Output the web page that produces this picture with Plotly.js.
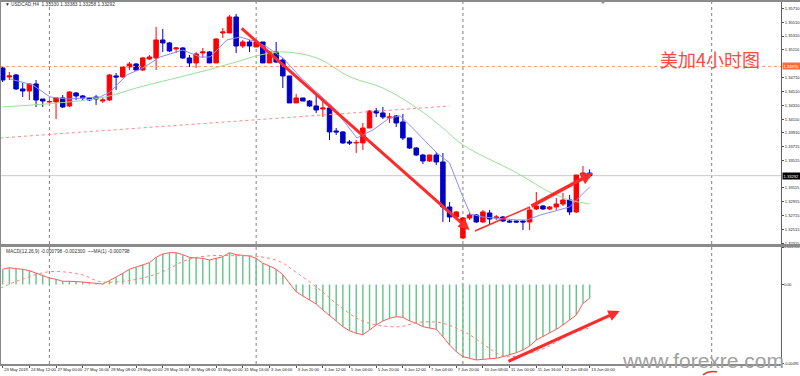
<!DOCTYPE html>
<html><head><meta charset="utf-8">
<script src="https://cdn.plot.ly/plotly-3.0.1.min.js"></script>
<style>html,body{margin:0;padding:0;background:#fff}#chart{width:800px;height:376px}</style>
</head><body><div id="chart"></div>
<script>
// ---- price bars (USDCAD H4) ----
const barOpen = [1.34848,1.34718,1.34747,1.34545,1.34516,1.34617,1.34400,1.34357,1.34357,1.34415,
1.34299,1.34487,1.34444,1.34415,1.34429,1.34371,1.34386,1.34733,1.34718,1.34863,
1.34906,1.34819,1.34978,1.34993,1.35253,1.35210,1.35123,1.35137,1.34993,1.34921,
1.35065,1.35080,1.34921,1.35354,1.35354,1.35585,1.35166,1.35224,1.35152,1.35224,
1.34921,1.35080,1.34964,1.34733,1.34343,1.34415,1.34371,1.34299,1.34256,1.34270,
1.33938,1.33924,1.33779,1.33765,1.33765,1.33981,1.34227,1.34198,1.34126,1.34155,
1.34068,1.33837,1.33692,1.33591,1.33504,1.33591,1.33490,1.32840,1.32695,1.32392,
1.32681,1.32724,1.32623,1.32753,1.32681,1.32695,1.32637,1.32637,1.32637,1.32623,
1.32811,1.32854,1.32811,1.32840,1.32883,1.32941,1.32768,1.33302,1.33330];
const barHigh = [1.34877,1.34791,1.34762,1.34632,1.34632,1.34675,1.34400,1.34386,1.34429,1.34458,
1.34516,1.34501,1.34458,1.34429,1.34458,1.34429,1.34762,1.34776,1.34877,1.34935,
1.34921,1.35007,1.35036,1.35441,1.35412,1.35224,1.35152,1.35152,1.35036,1.35080,
1.35137,1.35094,1.35282,1.35426,1.35614,1.35629,1.35253,1.35253,1.35238,1.35224,
1.35094,1.35224,1.34993,1.34733,1.34473,1.34415,1.34386,1.34458,1.34415,1.34270,
1.33981,1.33938,1.33808,1.33808,1.34054,1.34241,1.34270,1.34285,1.34198,1.34169,
1.34184,1.33837,1.33707,1.33606,1.33591,1.33635,1.33620,1.32912,1.32782,1.32695,
1.32753,1.32739,1.32796,1.32796,1.32724,1.32710,1.32652,1.32652,1.32652,1.32840,
1.33056,1.32869,1.32854,1.32970,1.33042,1.33013,1.33302,1.33432,1.33383];
const barLow = [1.34646,1.34675,1.34530,1.34429,1.34386,1.34285,1.34285,1.34343,1.34111,1.34270,
1.34285,1.34386,1.34386,1.34371,1.34314,1.34343,1.34371,1.34530,1.34704,1.34819,
1.34805,1.34805,1.34964,1.34819,1.35080,1.35080,1.35065,1.34978,1.34863,1.34848,
1.34993,1.34921,1.34921,1.35282,1.35354,1.35065,1.35137,1.35080,1.35152,1.34921,
1.34921,1.34921,1.34559,1.34343,1.34343,1.34371,1.34285,1.34198,1.34140,1.33808,
1.33880,1.33750,1.33736,1.33620,1.33663,1.33981,1.34140,1.34111,1.34054,1.33996,
1.33808,1.33678,1.33577,1.33461,1.33490,1.33447,1.32623,1.32623,1.32681,1.32377,
1.32652,1.32609,1.32609,1.32580,1.32652,1.32623,1.32609,1.32609,1.32507,1.32507,
1.32796,1.32796,1.32796,1.32796,1.32854,1.32724,1.32753,1.33288,1.33258];
const barClose = [1.34675,1.34733,1.34545,1.34516,1.34617,1.34386,1.34371,1.34364,1.34415,1.34285,
1.34501,1.34444,1.34415,1.34386,1.34400,1.34386,1.34747,1.34718,1.34863,1.34906,
1.34819,1.34993,1.35007,1.35253,1.35210,1.35094,1.35137,1.34993,1.34921,1.35051,
1.35080,1.34921,1.35267,1.35368,1.35585,1.35166,1.35224,1.35166,1.35224,1.34921,
1.35080,1.34935,1.34733,1.34343,1.34415,1.34371,1.34299,1.34241,1.34270,1.33924,
1.33924,1.33765,1.33765,1.33772,1.33981,1.34227,1.34198,1.34140,1.34140,1.34054,
1.33837,1.33692,1.33591,1.33504,1.33591,1.33490,1.32840,1.32695,1.32768,1.32681,
1.32724,1.32623,1.32768,1.32666,1.32695,1.32637,1.32623,1.32623,1.32623,1.32796,
1.32854,1.32811,1.32840,1.32883,1.32941,1.32768,1.33302,1.33331,1.33292];

// ---- moving averages (read at bar positions) ----
const fastMaX = [1.1,4.5,7.1,9.6,14.6,16.1,18.6,21,23.6,27,29.6,31.1,33.6,35.6,38.1,39.6,42,44.6,49.5,53.1,55.5,58,59.6,61,65.1,67,69,70.1,72,77.1,78.6,80.6,85,86.1,88];
const fastMaY = [1.34689,1.34603,1.34429,1.34400,1.34429,1.34501,1.34747,1.34848,1.35007,1.35108,1.35007,1.35007,1.35253,1.35296,1.35224,1.35152,1.34993,1.34718,1.34285,1.33837,1.33952,1.34126,1.34155,1.34025,1.33620,1.33476,1.32984,1.32739,1.32695,1.32652,1.32652,1.32724,1.32840,1.32941,1.33129];
const slowMaX = [0,14.6,20.6,29.6,34.5,38.6,42,47.1,52.1,57,62.1,66,69,77.1,82,85,88];
const slowMaY = [1.34285,1.34415,1.34574,1.34791,1.34921,1.35036,1.35080,1.34993,1.34718,1.34559,1.34270,1.33981,1.33736,1.33331,1.33056,1.32941,1.32883];

// ---- MACD ----
const macdHist = [0.000939,0.001038,0.000976,0.000939,0.000852,0.000692,0.000568,0.000401,0.000321,0.000198,
0.000198,0.000198,0.000154,0.000111,0.000074,0.000031,0.000235,0.000445,0.000692,0.000939,
0.001062,0.001223,0.001346,0.001680,0.001884,0.001964,0.001964,0.001840,0.001680,0.001637,
0.001618,0.001513,0.001618,0.001717,0.001964,0.001840,0.001803,0.001760,0.001618,0.001309,
0.001143,0.000939,0.000605,0.000074,-0.000445,-0.000710,-0.000957,-0.001204,-0.001575,-0.001945,
-0.002254,-0.002606,-0.002853,-0.003014,-0.003100,-0.002810,-0.002501,-0.002254,-0.002087,-0.001989,
-0.002026,-0.002254,-0.002396,-0.002606,-0.002705,-0.002767,-0.003224,-0.003736,-0.004150,-0.004459,
-0.004558,-0.004663,-0.004620,-0.004601,-0.004558,-0.004459,-0.004354,-0.004212,-0.004045,-0.003798,
-0.003428,-0.003224,-0.002977,-0.002767,-0.002501,-0.002192,-0.001884,-0.001161,-0.000852];
const signalX = [-0.4,2.6,7.1,12,14.6,19.5,23.6,27.6,30.6,34.5,38.6,41.6,43.5,47.6,50.6,53.6,56.1,59.6,62.1,65.6,69.6,74.6,76.1,80.6,85.5,88];
const signalY = [-0.000235,0.000278,0.000791,0.000587,0.000173,0.000278,0.000729,0.001513,0.001760,0.001779,0.001717,0.001408,0.000896,-0.000340,-0.001371,-0.002192,-0.002501,-0.002606,-0.002359,-0.002359,-0.003014,-0.004354,-0.004459,-0.004045,-0.002995,-0.002687];

// ---- axis labels ----
const tickIdx = [0,4,8,12,16,20,24,28,32,36,40,44,48,52,56,60,64,68,72,76,80,84,88];
const tickLabels = ["23 May 2019","24 May 12:00","27 May 00:00","27 May 16:00","28 May 08:00","29 May 00:00","29 May 16:00","30 May 08:00","31 May 00:00","31 May 16:00","3 Jun 04:00","3 Jun 20:00","4 Jun 12:00","5 Jun 04:00","5 Jun 20:00","6 Jun 12:00","7 Jun 04:00","7 Jun 20:00","10 Jun 08:00","11 Jun 00:00","11 Jun 16:00","12 Jun 08:00","13 Jun 00:00"];
const priceTicks = [1.35710,1.35510,1.35310,1.35110,1.34710,1.34510,1.34310,1.34110,1.33910,1.33715,1.33515,1.33115,1.32915,1.32715,1.32515,1.32315];
const macdTicks = [0.002316,0,-0.00491];
const macdTickText = ["0.002316","0.00","-0.00491"];

// ---- drawn objects ----
const trendX = [-0.4,67], trendY = [1.33837,1.34299];
const downArrowX = [35.6,70.0], downArrowY = [1.35441,1.32507];
const upLineX = [70.8,79.05,88.5], upLineY = [1.32493,1.32840,1.33331];
const macdArrowX = [75.6,92.5], macdArrowY = [-0.004786,-0.001637];
const weekSepX = [7,38,69,106.3];
const levelPrice = 1.3487, lastPrice = 1.33292;

const barX = barOpen.map((_, i) => i);
const F = 'Liberation Sans, Arial, sans-serif';
const TS = 4.1;

const traces = [
  {type:'candlestick', x:barX, open:barOpen, high:barHigh, low:barLow, close:barClose,
   xaxis:'x', yaxis:'y', whiskerwidth:0, hoverinfo:'skip', showlegend:false,
   increasing:{line:{color:'#ff0000',width:1}, fillcolor:'#ff0000'},
   decreasing:{line:{color:'#0000c8',width:1}, fillcolor:'#0000c8'}},
  {type:'scatter', mode:'lines', x:fastMaX, y:fastMaY, xaxis:'x', yaxis:'y',
   line:{color:'#8c8cff', width:1}, hoverinfo:'skip', showlegend:false},
  {type:'scatter', mode:'lines', x:slowMaX, y:slowMaY, xaxis:'x', yaxis:'y', line:{shape:'spline',
   color:'#98e098', width:1}, hoverinfo:'skip', showlegend:false},
  {type:'bar', x:barX, y:macdHist, xaxis:'x', yaxis:'y2', width:0.22,
   marker:{color:'#6cc48c', line:{width:0}}, hoverinfo:'skip', showlegend:false},
  {type:'scatter', mode:'lines', x:barX, y:macdHist, xaxis:'x', yaxis:'y2',
   line:{color:'#ff5a5a', width:1}, hoverinfo:'skip', showlegend:false},
  {type:'scatter', mode:'lines', x:signalX, y:signalY, xaxis:'x', yaxis:'y2',
   line:{color:'#ff8080', width:1, dash:'dot', shape:'spline'}, hoverinfo:'skip', showlegend:false}
];

const shapes = [];
weekSepX.forEach(v => shapes.push({type:'line', xref:'x', yref:'paper', x0:v, x1:v, y0:0, y1:1,
  line:{color:'#808080', width:1, dash:'dot'}, layer:'below'}));
shapes.push({type:'line', xref:'paper', yref:'y', x0:0, x1:1, y0:levelPrice, y1:levelPrice,
  line:{color:'#ff9a78', width:1, dash:'dot'}});
shapes.push({type:'line', xref:'paper', yref:'y', x0:0, x1:1, y0:lastPrice, y1:lastPrice,
  line:{color:'#c8c8c8', width:1}, layer:'below'});
shapes.push({type:'line', xref:'x', yref:'y', x0:trendX[0], x1:trendX[1], y0:trendY[0], y1:trendY[1],
  line:{color:'#ff8a8a', width:1, dash:'dot'}});
shapes.push({type:'line', xref:'x', yref:'y', x0:upLineX[0], x1:upLineX[1], y0:upLineY[0], y1:upLineY[1],
  line:{color:'#ff2a2a', width:1.5}});
// pane separator and frame
shapes.push({type:'rect', xref:'paper', yref:'paper', x0:0, x1:1.03, y0:0.3223, y1:0.3306,
  fillcolor:'#8a8a8a', line:{width:0}});
shapes.push({type:'line', xref:'paper', yref:'paper', x0:0, x1:0, y0:0, y1:1, line:{color:'#8a8a8a', width:2}});
shapes.push({type:'line', xref:'paper', yref:'paper', x0:0, x1:1.03, y0:1, y1:1, line:{color:'#8a8a8a', width:2}});
shapes.push({type:'path', xref:'paper', yref:'paper', path:'M 0.7683 1 L 0.7760 1 L 0.7721 0.9917 Z',
  fillcolor:'#909090', line:{width:0}});
shapes.push({type:'path', xref:'paper', yref:'paper', path:'M 0.900 -0.030 Q 0.908 -0.018 0.918 -0.022',
  line:{color:'#ff3030', width:1.5}});

const annotations = [
  {xref:'paper', yref:'paper', x:0.004, y:0.989, xanchor:'left', yanchor:'middle', showarrow:false,
   text:'\u25BC USDCAD,H4  1.33330 1.33383 1.33258 1.33292', font:{family:F, size:4.8, color:'#333'}},
  {xref:'paper', yref:'paper', x:0.005, y:0.311, xanchor:'left', yanchor:'middle', showarrow:false,
   text:'MACD(12,26,9) -0.000798 -0.002300  ~~MA(1) -0.000798', font:{family:F, size:4.8, color:'#333'}},
  {xref:'paper', yref:'paper', x:0.909, y:0.840, xanchor:'center', yanchor:'middle', showarrow:false,
   text:'美加4小时图', font:{family:'Noto Sans CJK SC', size:18, color:'#ff4848'}},
  {xref:'paper', yref:'paper', x:0.9, y:0.011, xanchor:'center', yanchor:'middle', showarrow:false,
   text:'www.forexre.com', font:{family:F, size:21, color:'#a0a0a0'}},
  {xref:'paper', yref:'y', x:1, y:levelPrice, xanchor:'left', yanchor:'middle', xshift:1, showarrow:false,
   text:'1.34870', bgcolor:'#ff6a3a', borderpad:0.5, font:{family:F, size:TS, color:'#ffffff'}},
  {xref:'paper', yref:'y', x:1, y:lastPrice, xanchor:'left', yanchor:'middle', xshift:1, showarrow:false,
   text:'1.33292', bgcolor:'#000000', borderpad:0.5, font:{family:F, size:TS, color:'#ffffff'}},
  {xref:'x', yref:'y', axref:'x', ayref:'y', x:downArrowX[1], y:downArrowY[1], ax:downArrowX[0], ay:downArrowY[0],
   text:'', showarrow:true, arrowhead:2, arrowsize:0.75, arrowwidth:3, arrowcolor:'#ff2a2a'},
  {xref:'x', yref:'y', axref:'x', ayref:'y', x:upLineX[2], y:upLineY[2], ax:upLineX[1], ay:upLineY[1],
   text:'', showarrow:true, arrowhead:2, arrowsize:0.7, arrowwidth:3.5, arrowcolor:'#ff2a2a'},
  {xref:'x', yref:'y2', axref:'x', ayref:'y2', x:macdArrowX[1], y:macdArrowY[1], ax:macdArrowX[0], ay:macdArrowY[0],
   text:'', showarrow:true, arrowhead:2, arrowsize:0.75, arrowwidth:3, arrowcolor:'#ff2a2a'}
];

const layout = {
  width:800, height:376, margin:{l:0, r:19, t:1, b:12},
  paper_bgcolor:'#ffffff', plot_bgcolor:'#ffffff', showlegend:false,
  boxgap:0.33, boxgroupgap:0, dragmode:false,
  xaxis:{range:[-0.405,116.69], anchor:'y2', tickvals:tickIdx, ticktext:tickLabels, tickangle:0,
    ticks:'outside', ticklen:2, tickcolor:'#555', ticklabelposition:'outside right',
    tickfont:{family:F, size:TS, color:'#222'}, showgrid:false, zeroline:false,
    showline:true, linecolor:'#8a8a8a', linewidth:2, rangeslider:{visible:false}, fixedrange:true},
  yaxis:{domain:[0.3306,1], side:'right', range:[1.32305,1.35816], tickvals:priceTicks,
    tickformat:'.5f', ticks:'outside', ticklen:2, tickcolor:'#555',
    tickfont:{family:F, size:TS, color:'#222'}, showgrid:false, zeroline:false,
    showline:true, linecolor:'#606060', linewidth:1, fixedrange:true},
  yaxis2:{domain:[0,0.3223], side:'right', range:[-0.00491,0.002316], tickvals:macdTicks, ticktext:macdTickText,
    ticks:'outside', ticklen:1.5, tickcolor:'#555',
    tickfont:{family:F, size:3.7, color:'#222'}, showgrid:false, zeroline:false,
    showline:true, linecolor:'#606060', linewidth:1, fixedrange:true},
  shapes:shapes, annotations:annotations
};

Plotly.newPlot('chart', traces, layout, {staticPlot:true, displayModeBar:false});
</script></body></html>
